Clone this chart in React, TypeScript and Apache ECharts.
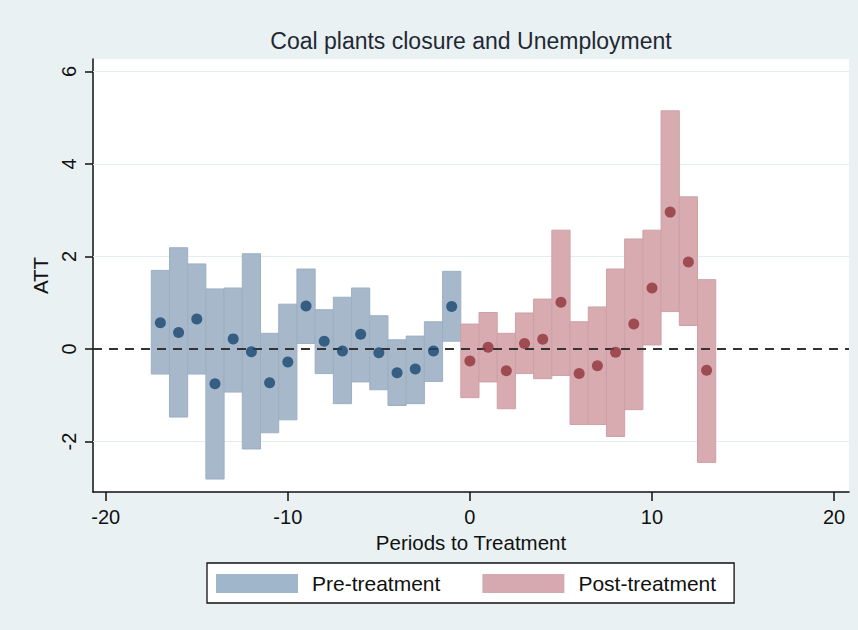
import React, { useEffect, useRef } from "react";
import * as echarts from "echarts";

// Pre-treatment periods, point estimates and confidence bounds
const prePeriods = [-17, -16, -15, -14, -13, -12, -11, -10, -9, -8, -7, -6, -5, -4, -3, -2, -1];
const preEstimate = [0.57, 0.36, 0.65, -0.75, 0.22, -0.06, -0.73, -0.28, 0.93, 0.17, -0.04, 0.32, -0.08, -0.51, -0.43, -0.04, 0.92];
const preUpper = [1.70, 2.19, 1.84, 1.30, 1.32, 2.06, 0.34, 0.97, 1.73, 0.85, 1.12, 1.32, 0.72, 0.20, 0.28, 0.59, 1.68];
const preLower = [-0.54, -1.47, -0.54, -2.81, -0.93, -2.16, -1.81, -1.53, 0.12, -0.53, -1.18, -0.71, -0.88, -1.22, -1.18, -0.70, 0.17];

// Post-treatment periods, point estimates and confidence bounds
const postPeriods = [0, 1, 2, 3, 4, 5, 6, 7, 8, 9, 10, 11, 12, 13];
const postEstimate = [-0.26, 0.04, -0.47, 0.12, 0.21, 1.01, -0.53, -0.36, -0.07, 0.54, 1.32, 2.96, 1.88, -0.46];
const postUpper = [0.54, 0.79, 0.34, 0.78, 1.08, 2.57, 0.59, 0.91, 1.73, 2.38, 2.57, 5.15, 3.29, 1.50];
const postLower = [-1.05, -0.71, -1.29, -0.53, -0.64, -0.57, -1.63, -1.63, -1.89, -1.31, 0.09, 0.81, 0.51, -2.45];

// Axis ticks
const xTicks = [-20, -10, 0, 10, 20];
const yTicks = [-2, 0, 2, 4, 6];
const yGridLines = [-2, 2, 4, 6];

const FONT = '"Liberation Sans", Arial, Helvetica, sans-serif';

export default function App() {
  const ref = useRef<HTMLDivElement>(null);

  useEffect(() => {
    if (!ref.current) return;
    const chart = echarts.init(ref.current, null, { renderer: "svg" });

    const makeBars = (periods: number[], lo: number[], hi: number[]) =>
      periods.map((t, i) => [t, lo[i], hi[i]]);
    const makePoints = (periods: number[], est: number[]) =>
      periods.map((t, i) => [t, est[i]]);

    const barRender = (fill: string, stroke: string) => (params: any, api: any) => {
      const t = api.value(0);
      const lo = api.value(1);
      const hi = api.value(2);
      const p1 = api.coord([t - 0.5, hi]);
      const p2 = api.coord([t + 0.5, lo]);
      return {
        type: "rect",
        shape: { x: p1[0], y: p1[1], width: p2[0] - p1[0], height: p2[1] - p1[1] },
        style: { fill, stroke, lineWidth: 1 },
      };
    };

    const preFill = "#a6b8ca";
    const preStroke = "#9cb0c3";
    const postFill = "#d8abb1";
    const postStroke = "#cda0a7";

    chart.setOption({
      animation: false,
      backgroundColor: "#eaf1f3",
      graphic: [
        {
          type: "text",
          x: 471,
          y: 41,
          style: {
            text: "Coal plants closure and Unemployment",
            fontFamily: FONT,
            fontSize: 23,
            fill: "#1f2933",
            textAlign: "center",
            textVerticalAlign: "middle",
          },
        },
      ],
      grid: {
        left: 93,
        top: 59,
        right: 9,
        bottom: 138,
        show: true,
        backgroundColor: "#ffffff",
        borderWidth: 0,
      },
      legend: {
        left: 207,
        top: 563,
        orient: "horizontal",
        backgroundColor: "#ffffff",
        borderColor: "#111111",
        borderWidth: 1.3,
        borderRadius: 0,
        padding: [10, 18, 9, 9],
        itemWidth: 82,
        itemHeight: 19,
        itemGap: 42,
        selectedMode: false,
        textStyle: { fontFamily: FONT, fontSize: 21, color: "#111111", padding: [0, 0, 0, 9] },
        data: [
          { name: "Pre-treatment", icon: "rect", itemStyle: { color: "#a0b6ca", borderWidth: 0 } },
          { name: "Post-treatment", icon: "rect", itemStyle: { color: "#d6a8af", borderWidth: 0 } },
        ],
      },
      xAxis: {
        type: "value",
        min: -20.7,
        max: 20.82,
        name: "Periods to Treatment",
        nameLocation: "middle",
        nameGap: 37,
        nameTextStyle: { fontFamily: FONT, fontSize: 20.5, color: "#111111" },
        axisLine: { show: true, onZero: false, lineStyle: { color: "#111111", width: 1.5 } },
        axisTick: { show: true, length: 9, customValues: xTicks, lineStyle: { color: "#111111", width: 1.5 } },
        axisLabel: {
          customValues: xTicks,
          fontFamily: FONT,
          fontSize: 20,
          color: "#111111",
          margin: 15,
        },
        splitLine: { show: false },
      },
      yAxis: {
        type: "value",
        min: -3.09,
        max: 6.27,
        name: "ATT",
        nameLocation: "middle",
        nameRotate: 90,
        nameGap: 38,
        nameTextStyle: { fontFamily: FONT, fontSize: 20.5, color: "#111111" },
        axisLine: { show: true, onZero: false, lineStyle: { color: "#111111", width: 1.5 } },
        axisTick: { show: true, length: 8, customValues: yTicks, lineStyle: { color: "#111111", width: 1.5 } },
        axisLabel: {
          customValues: yTicks,
          rotate: 90,
          fontFamily: FONT,
          fontSize: 20,
          color: "#111111",
          margin: 14,
        },
        splitLine: { show: false },
      },
      series: [
        {
          name: "grid",
          type: "line",
          data: [],
          silent: true,
          z: 1,
          markLine: {
            silent: true,
            z: 1,
            symbol: ["none", "none"],
            label: { show: false },
            lineStyle: { color: "#e3ecef", width: 1.2, type: "solid" },
            data: yGridLines.map((v) => ({ yAxis: v })),
          },
        },
        {
          name: "Pre-treatment",
          type: "custom",
          z: 2,
          itemStyle: { color: preFill },
          renderItem: barRender(preFill, preStroke),
          encode: { x: 0, y: [1, 2] },
          data: makeBars(prePeriods, preLower, preUpper),
        },
        {
          name: "Post-treatment",
          type: "custom",
          z: 2,
          itemStyle: { color: postFill },
          renderItem: barRender(postFill, postStroke),
          encode: { x: 0, y: [1, 2] },
          data: makeBars(postPeriods, postLower, postUpper),
        },
        {
          name: "zero",
          type: "line",
          data: [],
          silent: true,
          z: 3,
          markLine: {
            silent: true,
            z: 3,
            symbol: ["none", "none"],
            label: { show: false },
            lineStyle: { color: "#333333", width: 2.2, type: [9, 7] },
            data: [{ yAxis: 0 }],
          },
        },
        {
          name: "Pre estimate",
          type: "scatter",
          z: 10,
          symbol: "circle",
          symbolSize: 11,
          itemStyle: { color: "#1a476f" },
          data: makePoints(prePeriods, preEstimate),
        },
        {
          name: "Post estimate",
          type: "scatter",
          z: 10,
          symbol: "circle",
          symbolSize: 11,
          itemStyle: { color: "#90353b" },
          data: makePoints(postPeriods, postEstimate),
        },
      ],
    });

    return () => chart.dispose();
  }, []);

  return (
    <div
      ref={ref}
      style={{ position: "fixed", left: 0, top: 0, width: 858, height: 630 }}
    />
  );
}
